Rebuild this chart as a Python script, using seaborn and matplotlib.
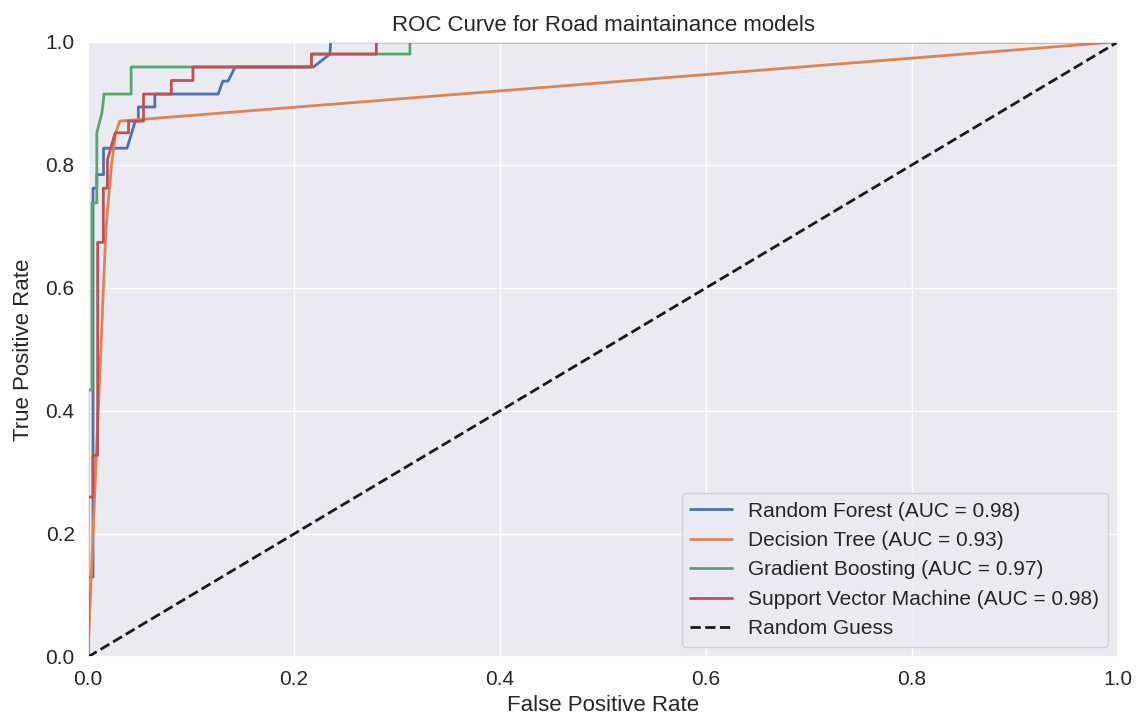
# import packages
import numpy as np
import pandas as pd
import matplotlib
matplotlib.use('Agg')
import matplotlib.pyplot as plt
import seaborn as sns

# ROC points (fpr, tpr)
rf_fpr = [0.0, 0.0, 0.005, 0.005, 0.0087, 0.0087, 0.0152, 0.0152, 0.038, 0.046, 0.049, 0.049,
          0.065, 0.065, 0.1265, 0.131, 0.136, 0.143, 0.219, 0.235, 0.2356, 1.0]
rf_tpr = [0.0, 0.13, 0.13, 0.762, 0.762, 0.784, 0.784, 0.827, 0.827, 0.871, 0.871, 0.894,
          0.894, 0.915, 0.915, 0.936, 0.936, 0.959, 0.959, 0.980, 1.0, 1.0]

dt_fpr = [0.0, 0.0175, 0.023, 0.027, 0.031, 1.0]
dt_tpr = [0.0, 0.694, 0.800, 0.852, 0.871, 1.0]

gb_fpr = [0.0, 0.0, 0.004, 0.004, 0.0087, 0.0087, 0.0136, 0.0152, 0.0155, 0.042, 0.042,
          0.217, 0.217, 0.3126, 0.3126, 1.0]
gb_tpr = [0.0, 0.434, 0.434, 0.738, 0.738, 0.852, 0.884, 0.906, 0.915, 0.915, 0.959,
          0.959, 0.980, 0.980, 1.0, 1.0]

svm_fpr = [0.0, 0.0, 0.005, 0.005, 0.0095, 0.0095, 0.015, 0.015, 0.019, 0.019, 0.0265,
           0.0395, 0.0395, 0.054, 0.054, 0.081, 0.081, 0.102, 0.102, 0.217, 0.217, 0.280, 0.280, 1.0]
svm_tpr = [0.0, 0.26, 0.26, 0.328, 0.328, 0.674, 0.674, 0.762, 0.762, 0.808, 0.852,
           0.852, 0.871, 0.871, 0.915, 0.915, 0.937, 0.937, 0.959, 0.959, 0.980, 0.980, 1.0, 1.0]

models = ['Random Forest', 'Decision Tree', 'Gradient Boosting', 'Support Vector Machine']
aucs = [0.98, 0.93, 0.97, 0.98]
curves = [(rf_fpr, rf_tpr), (dt_fpr, dt_tpr), (gb_fpr, gb_tpr), (svm_fpr, svm_tpr)]

# build a long dataframe for seaborn
frames = []
for name, auc, (fpr, tpr) in zip(models, aucs, curves):
    frames.append(pd.DataFrame({'fpr': fpr, 'tpr': tpr,
                                'model': f'{name} (AUC = {auc:.2f})'}))
df = pd.concat(frames, ignore_index=True)

sns.set_theme(style='darkgrid')
plt.rcParams['font.family'] = ['Liberation Sans', 'DejaVu Sans']

fig, ax = plt.subplots(figsize=(11.41, 7.2), dpi=100)
fig.subplots_adjust(left=0.077, right=0.98, top=0.942, bottom=0.0875)

sns.lineplot(data=df, x='fpr', y='tpr', hue='model', palette='deep',
             estimator=None, sort=False, linewidth=2, ax=ax)
ax.plot([0, 1], [0, 1], 'k--', linewidth=2, label='Random Guess')

ax.set_xlim(0, 1)
ax.set_ylim(0, 1)
ax.set_xlabel('False Positive Rate', fontsize=16, labelpad=4)
ax.set_ylabel('True Positive Rate', fontsize=16, labelpad=8)
ax.set_title('ROC Curve for Road maintainance models', fontsize=16, pad=8)
ax.tick_params(labelsize=15)
ax.legend(loc='lower right', fontsize=15)

fig.savefig('out.png', dpi=100)
